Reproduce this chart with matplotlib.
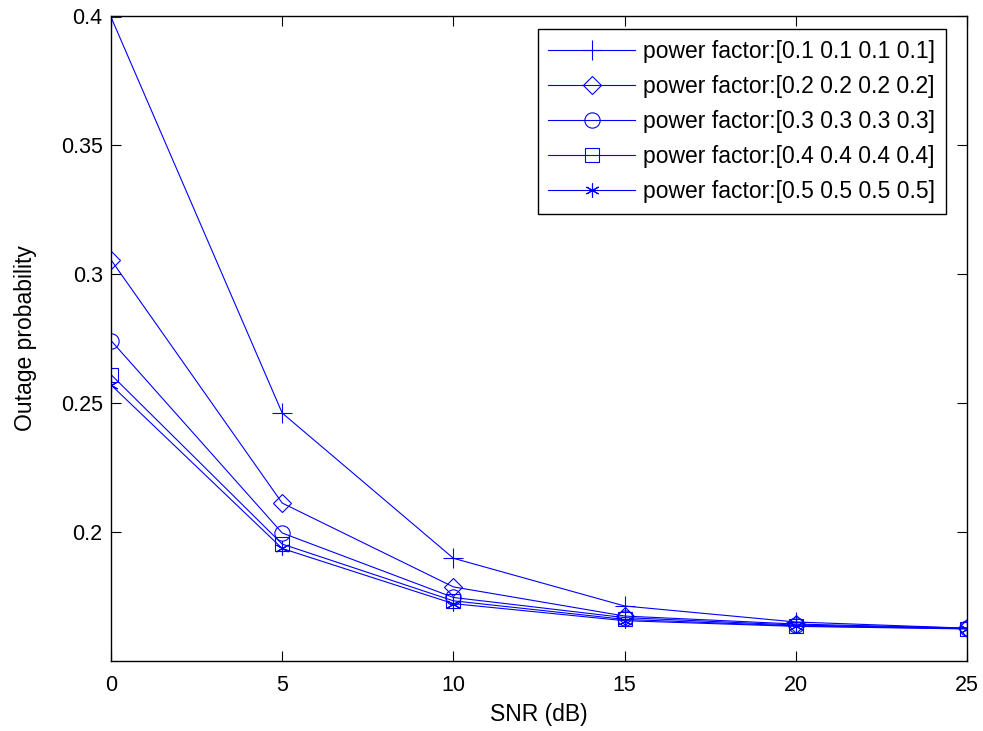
import matplotlib
matplotlib.use("Agg")
import matplotlib.pyplot as plt

plt.rcParams['font.family'] = ['Liberation Sans', 'DejaVu Sans']

snr = [0, 5, 10, 15, 20, 25]
pf01 = [0.3995, 0.2460, 0.1897, 0.1712, 0.1650, 0.1626]
pf02 = [0.3054, 0.2111, 0.1786, 0.1673, 0.1642, 0.1626]
pf03 = [0.2741, 0.1995, 0.1745, 0.1667, 0.1638, 0.1625]
pf04 = [0.2609, 0.1952, 0.1732, 0.1660, 0.1635, 0.1624]
pf05 = [0.2569, 0.1935, 0.1721, 0.1655, 0.1633, 0.1623]
labels = ['power factor:[0.1 0.1 0.1 0.1]',
          'power factor:[0.2 0.2 0.2 0.2]',
          'power factor:[0.3 0.3 0.3 0.3]',
          'power factor:[0.4 0.4 0.4 0.4]',
          'power factor:[0.5 0.5 0.5 0.5]']
xticks = [0, 5, 10, 15, 20, 25]
yticks = [0.2, 0.25, 0.3, 0.35, 0.4]
ytick_labels = ['0.2', '0.25', '0.3', '0.35', '0.4']

fig = plt.figure(figsize=(9.83, 7.31), dpi=100)
ax = fig.add_axes([0.1129, 0.0962, 0.8708, 0.8823])

blue = (0, 0, 1)
series = [pf01, pf02, pf03, pf04, pf05]
markers = ['+', 'D', 'o', 's', (6, 2, 0)]
msizes = [14, 9.5, 11, 10.5, 10]
for data, m, ms, lab in zip(series, markers, msizes, labels):
    ax.plot(snr, data, color=blue, lw=0.8, marker=m, ms=ms,
            markerfacecolor='none', markeredgecolor=blue, markeredgewidth=0.8,
            label=lab)

ax.set_xlim(0, 25)
ax.set_ylim(0.15, 0.4)
ax.set_xticks(xticks)
ax.set_yticks(yticks)
ax.set_yticklabels(ytick_labels)
ax.tick_params(direction='in', top=True, right=True, labelsize=15.5, length=7, width=0.8)
ax.tick_params(axis='x', pad=10)
ax.tick_params(axis='y', pad=6)
for s in ax.spines.values():
    s.set_linewidth(1.0)

ax.set_xlabel('SNR (dB)', fontsize=16.5, labelpad=5)
ax.set_ylabel('Outage probability', fontsize=16.5, labelpad=17)

leg = ax.legend(loc='upper right', bbox_to_anchor=(0.9755, 0.9794), borderaxespad=0,
                fontsize=16.5, handlelength=3.8, labelspacing=0.53, fancybox=False,
                edgecolor='black', framealpha=1, handletextpad=0.35, borderpad=0.46)
leg.get_frame().set_linewidth(1.0)

fig.savefig('out.png', dpi=100)
